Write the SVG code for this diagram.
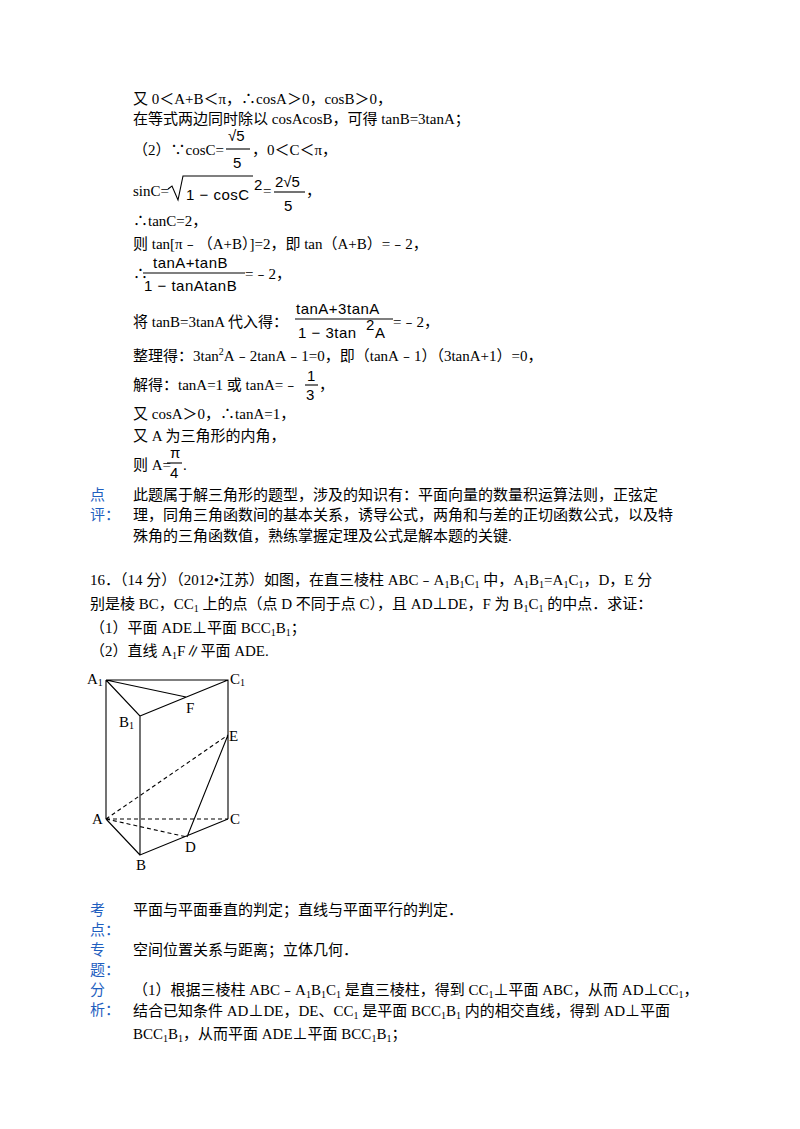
<svg xmlns="http://www.w3.org/2000/svg" width="800" height="1129" viewBox="0 0 800 1129">
<style>
text{font-family:"Liberation Serif","Noto Sans CJK SC",serif;font-size:15px;fill:#000}
.s{font-family:"Liberation Sans","DejaVu Sans",sans-serif;font-size:15px}
.b{fill:#1f5fbf}
.sub{font-size:10px}
.l{stroke:#000;stroke-width:1.6;fill:none}
.t{stroke:#000;stroke-width:1.1;fill:none}
.d{stroke:#000;stroke-width:1.1;fill:none;stroke-dasharray:4 3}
</style>
<rect width="800" height="1129" fill="#fff"/>
<text x="133" y="104">又 0＜A+B＜π，∴cosA＞0，cosB＞0，</text>
<text x="133" y="124">在等式两边同时除以 cosAcosB，可得 tanB=3tanA；</text>
<text x="133" y="155">（2）∵cosC=</text>
<text x="228" y="141" class="s" font-size="17">√5</text>
<line x1="226" y1="149" x2="250" y2="149" class="t"/>
<text x="233" y="168" class="s" font-size="17">5</text>
<text x="252" y="155">，0＜C＜π，</text>
<text x="133" y="196">sinC=</text>
<path d="M168,189 l4,-3 l6,14 l5,-24 h70" class="t"/>
<text x="186" y="200" class="s" font-size="17" letter-spacing="0.5">1 − cosC</text>
<text x="254" y="190" class="s" font-size="12">2</text>
<text x="263" y="196">=</text>
<text x="275" y="187" class="s" font-size="17">2√5</text>
<line x1="274" y1="192" x2="305" y2="192" class="t"/>
<text x="284" y="211" class="s" font-size="17">5</text>
<text x="306" y="196">，</text>
<text x="133" y="226">∴tanC=2，</text>
<text x="133" y="249">则 tan[π﹣（A+B）]=2，即 tan（A+B）=﹣2，</text>
<text x="133" y="279">∴</text>
<text x="153" y="268" class="s" letter-spacing="0.5">tanA+tanB</text>
<line x1="143" y1="273" x2="245" y2="273" class="t"/>
<text x="144" y="291" class="s" letter-spacing="0.5">1 − tanAtanB</text>
<text x="245" y="279">=﹣2，</text>
<text x="133" y="327">将 tanB=3tanA 代入得：</text>
<text x="296" y="314" class="s" font-size="16" letter-spacing="0.5">tanA+3tanA</text>
<line x1="295" y1="319" x2="393" y2="319" class="t"/>
<text x="298" y="338" class="s" font-size="16" letter-spacing="0.5">1 − 3tan</text>
<text x="366" y="330" class="s" font-size="11">2</text>
<text x="375" y="338" class="s" font-size="16">A</text>
<text x="393" y="327">=﹣2，</text>
<text x="133" y="361">整理得：3tan<tspan dy="-6" class="sub">2</tspan><tspan dy="6">A﹣2tanA﹣1=0，即（tanA﹣1）（3tanA+1）=0，</tspan></text>
<text x="133" y="390">解得：tanA=1 或 tanA=﹣</text>
<text x="307" y="381" class="s">1</text>
<line x1="305" y1="385" x2="318" y2="385" class="t"/>
<text x="306" y="400" class="s">3</text>
<text x="319" y="390">，</text>
<text x="133" y="419">又 cosA＞0，∴tanA=1，</text>
<text x="133" y="441">又 A 为三角形的内角，</text>
<text x="133" y="470">则 A=</text>
<text x="170" y="458" class="s" font-size="14">π</text>
<line x1="167" y1="463" x2="182" y2="463" class="t"/>
<text x="170" y="478" class="s">4</text>
<text x="183" y="470">.</text>
<text x="90" y="500" class="b">点</text>
<text x="90" y="520" class="b">评：</text>
<text x="133" y="500">此题属于解三角形的题型，涉及的知识有：平面向量的数量积运算法则，正弦定</text>
<text x="133" y="520">理，同角三角函数间的基本关系，诱导公式，两角和与差的正切函数公式，以及特</text>
<text x="133" y="541">殊角的三角函数值，熟练掌握定理及公式是解本题的关键.</text>
<text x="90" y="585">16．（14 分）（2012•江苏）如图，在直三棱柱 ABC﹣A<tspan class="sub" dy="3">1</tspan><tspan dy="-3">B</tspan><tspan class="sub" dy="3">1</tspan><tspan dy="-3">C</tspan><tspan class="sub" dy="3">1</tspan><tspan dy="-3"> 中，A</tspan><tspan class="sub" dy="3">1</tspan><tspan dy="-3">B</tspan><tspan class="sub" dy="3">1</tspan><tspan dy="-3">=A</tspan><tspan class="sub" dy="3">1</tspan><tspan dy="-3">C</tspan><tspan class="sub" dy="3">1</tspan><tspan dy="-3">，D，E 分</tspan></text>
<text x="90" y="609">别是棱 BC，CC<tspan class="sub" dy="3">1</tspan><tspan dy="-3"> 上的点（点 D 不同于点 C），且 AD⊥DE，F 为 B</tspan><tspan class="sub" dy="3">1</tspan><tspan dy="-3">C</tspan><tspan class="sub" dy="3">1</tspan><tspan dy="-3"> 的中点．求证：</tspan></text>
<text x="90" y="633">（1）平面 ADE⊥平面 BCC<tspan class="sub" dy="3">1</tspan><tspan dy="-3">B</tspan><tspan class="sub" dy="3">1</tspan><tspan dy="-3">；</tspan></text>
<text x="90" y="656">（2）直线 A<tspan class="sub" dy="3">1</tspan><tspan dy="-3">F∥平面 ADE.</tspan></text>
<g id="prism">
<path d="M106,680 H228 V819 M106,680 V819 M106,680 L140,716 V855 L228,819 M140,716 L228,680 M106,680 L186,697 M106,819 L140,855 M187,837 L228,735" class="t"/>
<path d="M106,819 H228 M106,819 L228,735 M106,819 L187,837" class="d"/>
</g>
<g id="labels">
<text x="87" y="684" font-size="14">A<tspan class="sub" dy="2">1</tspan></text>
<text x="230" y="684" font-size="14">C<tspan class="sub" dy="2">1</tspan></text>
<text x="119" y="727" font-size="14">B<tspan class="sub" dy="2">1</tspan></text>
<text x="186" y="713" font-size="14">F</text>
<text x="229" y="741" font-size="14">E</text>
<text x="92" y="824" font-size="14">A</text>
<text x="230" y="824" font-size="14">C</text>
<text x="185" y="852" font-size="14">D</text>
<text x="136" y="870" font-size="14">B</text>
</g>
<text x="90" y="915" class="b">考</text>
<text x="90" y="935" class="b">点：</text>
<text x="133" y="915">平面与平面垂直的判定；直线与平面平行的判定．</text>
<text x="90" y="955" class="b">专</text>
<text x="90" y="975" class="b">题：</text>
<text x="133" y="955">空间位置关系与距离；立体几何．</text>
<text x="90" y="995" class="b">分</text>
<text x="90" y="1015" class="b">析：</text>
<text x="133" y="995">（1）根据三棱柱 ABC﹣A<tspan class="sub" dy="3">1</tspan><tspan dy="-3">B</tspan><tspan class="sub" dy="3">1</tspan><tspan dy="-3">C</tspan><tspan class="sub" dy="3">1</tspan><tspan dy="-3"> 是直三棱柱，得到 CC</tspan><tspan class="sub" dy="3">1</tspan><tspan dy="-3">⊥平面 ABC，从而 AD⊥CC</tspan><tspan class="sub" dy="3">1</tspan><tspan dy="-3">，</tspan></text>
<text x="133" y="1016">结合已知条件 AD⊥DE，DE、CC<tspan class="sub" dy="3">1</tspan><tspan dy="-3"> 是平面 BCC</tspan><tspan class="sub" dy="3">1</tspan><tspan dy="-3">B</tspan><tspan class="sub" dy="3">1</tspan><tspan dy="-3"> 内的相交直线，得到 AD⊥平面</tspan></text>
<text x="133" y="1039">BCC<tspan class="sub" dy="3">1</tspan><tspan dy="-3">B</tspan><tspan class="sub" dy="3">1</tspan><tspan dy="-3">，从而平面 ADE⊥平面 BCC</tspan><tspan class="sub" dy="3">1</tspan><tspan dy="-3">B</tspan><tspan class="sub" dy="3">1</tspan><tspan dy="-3">；</tspan></text>
</svg>
